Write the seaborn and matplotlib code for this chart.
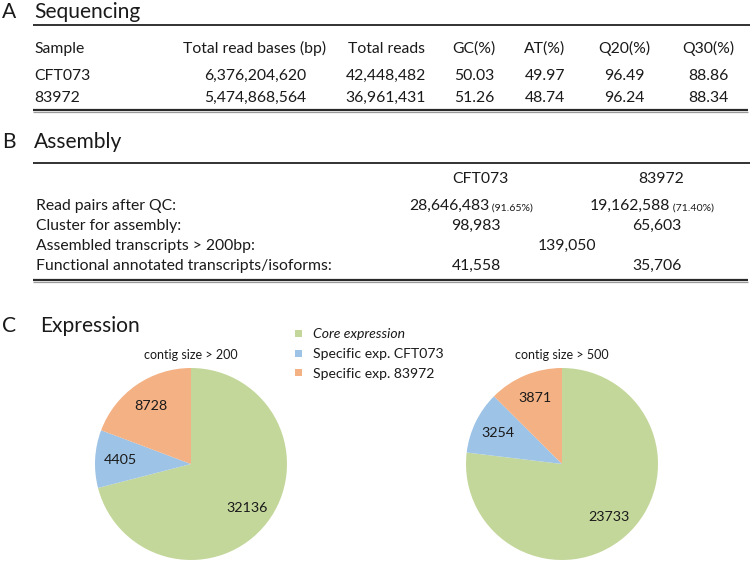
import matplotlib
matplotlib.use("Agg")
import matplotlib.pyplot as plt
from matplotlib.patches import Rectangle
import seaborn as sns

sns.set_theme(style="white")
plt.rcParams['font.family'] = ['Lato', 'DejaVu Sans']

# ---------------- Panel A: sequencing ----------------
seq_columns = ["Sample", "Total read bases (bp)", "Total reads", "GC(%)", "AT(%)", "Q20(%)", "Q30(%)"]
seq_samples = ["CFT073", "83972"]
seq_total_bases = [6376204620, 5474868564]
seq_total_reads = [42448482, 36961431]
seq_gc = [50.03, 51.26]
seq_at = [49.97, 48.74]
seq_q20 = [96.49, 96.24]
seq_q30 = [88.86, 88.34]

# ---------------- Panel B: assembly ----------------
asm_strains = ["CFT073", "83972"]
asm_rows = ["Read pairs after QC:", "Cluster for assembly:",
            "Assembled transcripts > 200bp:", "Functional annotated transcripts/isoforms:"]
asm_read_pairs = [28646483, 19162588]
asm_read_pct = [91.65, 71.40]
asm_clusters = [98983, 65603]
asm_assembled = 139050
asm_functional = [41558, 35706]

# ---------------- Panel C: expression ----------------
exp_categories = ["Core expression", "Specific exp. CFT073", "Specific exp. 83972"]
exp_contig200 = [32136, 4405, 8728]
exp_contig500 = [23733, 3254, 3871]
exp_titles = ["contig size > 200", "contig size > 500"]
pie_colors = ["#C4D79B", "#9DC3E6", "#F4B183"]

W, H = 750, 562
fig = plt.figure(figsize=(W / 100, H / 100), dpi=100)
fig.patch.set_facecolor("white")

lay = fig.add_axes([0, 0, 1, 1])
lay.set_xlim(0, W)
lay.set_ylim(H, 0)
lay.axis("off")

TXT = "#1a1a1a"
PT = 0.72  # px -> pt


def T(x, y, s, px, ha="left", va="baseline", **kw):
    return lay.text(x, y, s, fontsize=px * PT, ha=ha, va=va, color=TXT, **kw)


def rule(y, x0, x1, lw=1.3, color="#222222"):
    lay.plot([x0, x1], [y, y], color=color, lw=lw, solid_capstyle="butt")


def bottom_rule(y, x0, x1):
    lay.plot([x0, x1], [y, y], color="#2a2a2a", lw=1.6, solid_capstyle="butt")
    lay.plot([x0, x1], [y + 1.6, y + 1.6], color="#9a9a9a", lw=0.9, solid_capstyle="butt")


TITLE_PX = 21
TABLE_PX = 15.8

# ---- Panel A ----
T(2, 18, "A", TITLE_PX)
T(34, 18, "Sequencing", TITLE_PX)
rule(25, 33, W)

col_x = [34, 255, 386, 474, 545, 624, 708]
hdr_y, row_y = 53, [80, 102]
for i, name in enumerate(seq_columns):
    T(col_x[i], hdr_y, name, TABLE_PX, ha="left" if i == 0 else "center")
for r in range(len(seq_samples)):
    vals = [seq_samples[r], f"{seq_total_bases[r]:,}", f"{seq_total_reads[r]:,}",
            f"{seq_gc[r]:.2f}", f"{seq_at[r]:.2f}", f"{seq_q20[r]:.2f}", f"{seq_q30[r]:.2f}"]
    for i, v in enumerate(vals):
        T(col_x[i], row_y[r], v, TABLE_PX, ha="left" if i == 0 else "center")
bottom_rule(110, 33, 748)

# ---- Panel B ----
T(2, 148, "B", TITLE_PX)
T(34, 148, "Assembly", TITLE_PX)
rule(163, 33, W)

bcol = [476, 657]
for j, s in enumerate(asm_strains):
    T(bcol[j] + 4, 183, s, TABLE_PX, ha="center")
brow_y = [210, 230, 250, 270]
for k, lab in enumerate(asm_rows):
    T(36, brow_y[k], lab, TABLE_PX)
for j in range(2):
    main = T(bcol[j] + 13, brow_y[0], f"{asm_read_pairs[j]:,}", TABLE_PX, ha="right")
    lay.annotate(f" ({asm_read_pct[j]:.2f}%)", xy=(1, 0), xycoords=main,
                 xytext=(0, 0), textcoords="offset points", ha="left", va="bottom",
                 fontsize=10.5 * PT, color=TXT)
    T(bcol[j], brow_y[1], f"{asm_clusters[j]:,}", TABLE_PX, ha="center")
    T(bcol[j], brow_y[3], f"{asm_functional[j]:,}", TABLE_PX, ha="center")
T(sum(bcol) / 2, brow_y[2], f"{asm_assembled:,}", TABLE_PX, ha="center")
bottom_rule(280, 33, 748)

# ---- Panel C ----
T(2, 332, "C", TITLE_PX)
T(40, 332, "Expression", TITLE_PX)

for i, (cat, c) in enumerate(zip(exp_categories, pie_colors)):
    yc = 333.5 + i * 19.5
    lay.add_patch(Rectangle((295, yc - 3.5), 7, 7, facecolor=c, edgecolor="none"))
    T(313, yc + 5, cat, 14, style="italic" if i == 0 else "normal")

R = 96
centers = [(191, 464), (562, 464)]
for (cx, cy), vals, title in zip(centers, [exp_contig200, exp_contig500], exp_titles):
    ax = fig.add_axes([(cx - R) / W, 1 - (cy + R) / H, 2 * R / W, 2 * R / H])
    wedges, texts = ax.pie(vals, colors=pie_colors, startangle=90, counterclock=False,
                           labels=[str(v) for v in vals], labeldistance=0.74,
                           wedgeprops=dict(linewidth=0),
                           textprops=dict(fontsize=14.2 * PT, color=TXT))
    for t in texts:
        t.set_ha("center")
        t.set_va("center")
    ax.set_xlim(-1, 1)
    ax.set_ylim(-1, 1)
    ax.set_aspect("equal")
    ax.axis("off")
    T(cx, 359, title, 12.5, ha="center")

fig.savefig("out.png", dpi=100, facecolor="white")
